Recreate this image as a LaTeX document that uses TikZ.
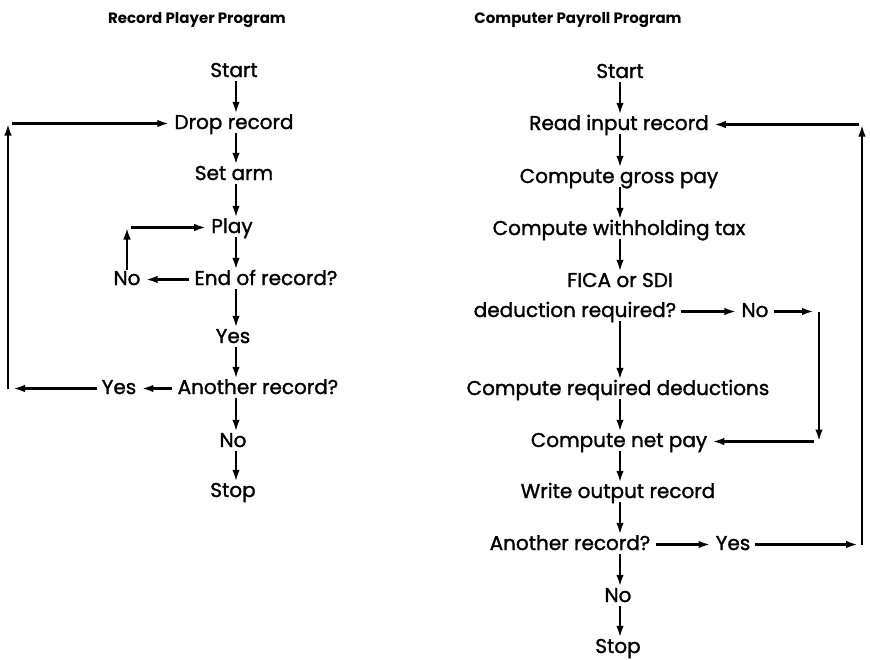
\documentclass[tikz,border=0pt]{standalone}
\usepackage{fontspec}
\setmainfont{Poppins}[UprightFeatures={FakeBold=1.4}]
\usetikzlibrary{arrows.meta,positioning,calc}
\tikzset{
  lepes/.style={inner xsep=5pt,inner ysep=1pt,text height=14pt,text depth=3pt,anchor=base},
  cim/.style={font=\fontsize{15}{17}\selectfont\bfseries,anchor=base},
  nyil/.style={-{Latex[length=12pt,width=7.5pt]},line width=2.4pt},
}

\begin{document}
\begin{tikzpicture}[x=1pt,y=-1pt,font=\fontsize{20}{22}\selectfont]
  \useasboundingbox (0,0) rectangle (870,659);
  % titles
  \node[cim] (lcim) at (197,23) {Record Player Program};
  \node[cim] (rcim) at (578,23) {Computer Payroll Program};
  % record player column
  \coordinate (lcol) at (236,0);
  \node[lepes] (lstart) at (234,77) {Start};
  \node[lepes] (ldrop) at (234,129) {Drop record};
  \node[lepes] (lset) at (234,180) {Set arm};
  \node[lepes] (lplay) at (232,233) {Play};
  \node[lepes] (lend) at (266,285) {End of record?};
  \node[lepes] (lno) at (127,285) {No};
  \node[lepes] (lyes) at (233,343) {Yes};
  \node[lepes] (lanother) at (258,394) {Another record?};
  \node[lepes] (lyes2) at (119,394) {Yes};
  \node[lepes] (lno2) at (233,447) {No};
  \node[lepes] (lstop) at (233,497) {Stop};
  \foreach \a/\b in {lstart/ldrop,ldrop/lset,lset/lplay,lplay/lend,lend/lyes,
                     lyes/lanother,lanother/lno2,lno2/lstop}
    \draw[nyil] (\a.south -| lcol) -- (\b.north -| lcol);
  % play loop
  \draw[nyil] (lend.west) -- (lno.east);
  \coordinate (lplayc) at (lno.north |- lplay.west);
  \draw[nyil] (lno.north) -- (lplayc);
  \draw[nyil] ([xshift=4pt]lplayc) -- (lplay.west);
  % next record loop
  \coordinate (lbot) at (8,0 |- lyes2.west);
  \coordinate (ltop) at (8,0 |- ldrop.west);
  \draw[nyil] (lanother.west) -- (lyes2.east);
  \draw[nyil] (lyes2.west) -- ([xshift=5pt]lbot);
  \draw[nyil] (lbot) -- (ltop);
  \draw[nyil] ([xshift=4pt]ltop) -- (ldrop.west);
  % payroll column
  \coordinate (rcol) at (620,0);
  \node[lepes] (rstart) at (620,78) {Start};
  \node[lepes] (rread) at (619,130) {Read input record};
  \node[lepes] (rgross) at (619,183) {Compute gross pay};
  \node[lepes] (rtax) at (619,235) {Compute withholding tax};
  \node[lepes] (rfica) at (620,287) {FICA or SDI};
  \node[lepes] (rded) at (575,317) {deduction required?};
  \node[lepes] (rno) at (755,317) {No};
  \node[lepes] (rreq) at (618,395) {Compute required deductions};
  \node[lepes] (rnet) at (619,447) {Compute net pay};
  \node[lepes] (rwrite) at (618,498) {Write output record};
  \node[lepes] (ranother) at (570,550) {Another record?};
  \node[lepes] (ryes) at (733,550) {Yes};
  \node[lepes] (rno2) at (618,602) {No};
  \node[lepes] (rstop) at (618,653) {Stop};
  \foreach \a/\b in {rstart/rread,rread/rgross,rgross/rtax,rtax/rfica,rded/rreq,
                     rreq/rnet,rnet/rwrite,rwrite/ranother,ranother/rno2,rno2/rstop}
    \draw[nyil] (\a.south -| rcol) -- (\b.north -| rcol);
  % skip deductions
  \coordinate (rnoc) at (819,0 |- rno.east);
  \coordinate (rnetc) at (819,0 |- rnet.east);
  \draw[nyil] (rded.east) -- (rno.west);
  \draw[nyil] (rno.east) -- ([xshift=-5pt]rnoc);
  \draw[nyil] (rnoc) -- (rnetc);
  \draw[nyil] ([xshift=-5pt]rnetc) -- (rnet.east);
  % next record loop
  \coordinate (rbot) at (862,0 |- ryes.east);
  \coordinate (rtop) at (862,0 |- rread.east);
  \draw[nyil] (ranother.east) -- (ryes.west);
  \draw[nyil] (ryes.east) -- ([xshift=-4pt]rbot);
  \draw[nyil] (rbot) -- (rtop);
  \draw[nyil] ([xshift=-3pt]rtop) -- (rread.east);
\end{tikzpicture}
\end{document}
